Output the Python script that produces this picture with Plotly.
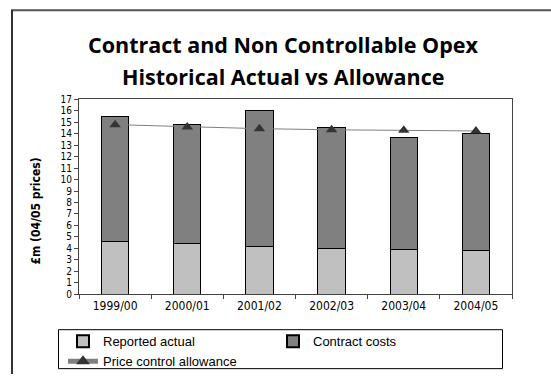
import plotly.graph_objects as go

years = ["1999/00", "2000/01", "2001/02", "2002/03", "2003/04", "2004/05"]
reported_actual = [4.6, 4.4, 4.15, 4.0, 3.9, 3.85]
contract_costs = [10.9, 10.45, 11.85, 10.55, 9.8, 10.15]
price_control_allowance = [14.8, 14.6, 14.45, 14.35, 14.3, 14.25]
y_ticks = list(range(0, 18))

W, H = 551, 379
px = lambda x: x / W
py = lambda y: 1 - y / H

fig = go.Figure()
fig.add_trace(go.Bar(x=years, y=reported_actual, name="Reported actual",
                     marker=dict(color="#c0c0c0", line=dict(color="black", width=1))))
fig.add_trace(go.Bar(x=years, y=contract_costs, name="Contract costs",
                     marker=dict(color="#808080", line=dict(color="black", width=1))))
fig.add_trace(go.Scatter(x=years, y=price_control_allowance, name="Price control allowance",
                         mode="lines+markers",
                         line=dict(color="#808080", width=1),
                         marker=dict(symbol="triangle-up", size=10, color="#333333")))

narrow = "Liberation Sans Narrow, DejaVu Sans Condensed, Arial"
title_font = dict(family="Open Sans, Lato, sans-serif", size=21.5, color="black")

fig.update_layout(
    width=W, height=H,
    margin=dict(l=0, r=0, t=0, b=0),
    paper_bgcolor="white", plot_bgcolor="white",
    barmode="stack", bargap=0.62,
    showlegend=True,
    legend=dict(orientation="h", x=px(63), y=py(330), xanchor="left", yanchor="top",
                borderwidth=0, bgcolor="rgba(0,0,0,0)",
                entrywidth=165, entrywidthmode="pixels", traceorder="normal",
                font=dict(family="Liberation Sans, Arial", size=13, color="black"),
                tracegroupgap=0, itemsizing="constant"),
    xaxis=dict(domain=[px(79), px(512)], type="category",
               showline=True, linecolor="#444", linewidth=1, mirror=True,
               ticks="outside", tickson="boundaries", ticklen=4, tickcolor="#444",
               tickfont=dict(family=narrow, size=12, color="black"), showgrid=False),
    yaxis=dict(domain=[py(297), py(97)], range=[0, 17], tickvals=y_ticks,
               showline=True, linecolor="#444", linewidth=1, mirror=True,
               ticks="outside", ticklen=4, tickcolor="#444",
               tickfont=dict(family=narrow, size=10, color="black"),
               showgrid=False, zeroline=False),
    annotations=[
        dict(text="<b>Contract and Non Controllable Opex</b>",
             x=px(283), y=py(41), xref="paper", yref="paper", showarrow=False,
             xanchor="center", yanchor="middle", font=title_font),
        dict(text="<b>Historical Actual vs Allowance</b>",
             x=px(283), y=py(73), xref="paper", yref="paper", showarrow=False,
             xanchor="center", yanchor="middle", font=title_font),
        dict(text="<b>£m (04/05 prices)</b>", textangle=-90,
             x=px(36), y=py(212), xref="paper", yref="paper", showarrow=False,
             xanchor="center", yanchor="middle",
             font=dict(family="DejaVu Sans Condensed, DejaVu Sans, sans-serif", size=12, color="black")),
    ],
    shapes=[
        dict(type="line", xref="paper", yref="paper", x0=px(11), x1=1, y0=py(5.5), y1=py(5.5),
             line=dict(color="#555", width=2)),
        dict(type="line", xref="paper", yref="paper", x0=px(12), x1=px(12), y0=py(5), y1=0,
             line=dict(color="#333", width=2)),
        dict(type="rect", xref="paper", yref="paper", x0=px(58.5), x1=px(502.5), y0=py(333.5), y1=py(373.5),
             line=dict(color="black", width=1), fillcolor="rgba(0,0,0,0)", layer="below"),
    ],
)

fig.write_html("out.html")
